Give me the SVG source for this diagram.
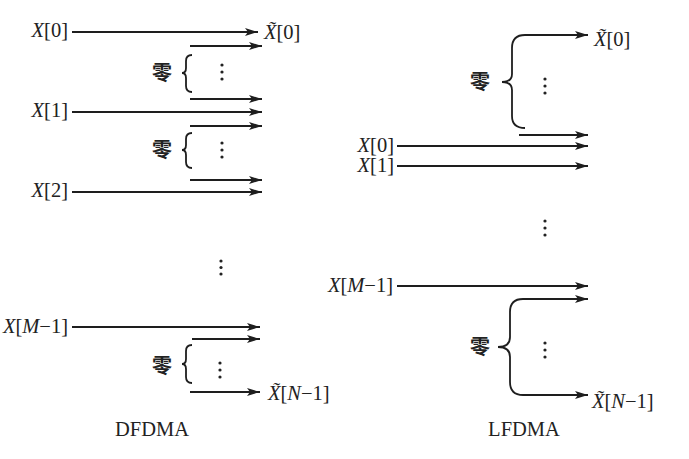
<svg xmlns="http://www.w3.org/2000/svg" width="689" height="459" viewBox="0 0 689 459">
<style>
.t{font-family:"Liberation Serif","Times New Roman",serif;font-size:20.5px;fill:#222}
.i{font-style:italic}
.z{font-family:"Liberation Serif","Noto Sans CJK SC",serif;font-size:20px;fill:#222;text-anchor:middle;font-weight:bold}
.c{font-family:"Liberation Serif","Times New Roman",serif;font-size:20.5px;fill:#222;text-anchor:middle}
.a{stroke:#1e1e1e;stroke-width:1.8;fill:none;marker-end:url(#ah)}
.b{stroke:#1e1e1e;stroke-width:1.8;fill:none}
.d{fill:#222}
</style>
<defs>
<marker id="ah" markerUnits="userSpaceOnUse" markerWidth="14" markerHeight="10" refX="13" refY="4" orient="auto">
<path d="M0,0 L13,4 L0,8 L3,4 z" fill="#1e1e1e"/>
</marker>
</defs>
<rect width="689" height="459" fill="#fff"/>

<!-- Left panel (DFDMA) -->
<g id="L_x0"><text class="t" x="68" y="37" text-anchor="end"><tspan class="i">X</tspan>[0]</text></g>
<g id="L_x1"><text class="t" x="68" y="117" text-anchor="end"><tspan class="i">X</tspan>[1]</text></g>
<g id="L_x2"><text class="t" x="68" y="197" text-anchor="end"><tspan class="i">X</tspan>[2]</text></g>
<g id="L_xM"><text class="t" x="68" y="333" text-anchor="end"><tspan class="i">X</tspan>[<tspan class="i">M</tspan>−1]</text></g>
<g id="L_y0"><text class="t" x="264" y="39"><tspan class="i">X̃</tspan>[0]</text></g>
<g id="L_yN"><text class="t" x="268" y="400"><tspan class="i">X̃</tspan>[<tspan class="i">N</tspan>−1]</text></g>
<g id="L_zero1">
<text class="z" x="162" y="80">零</text>
<path class="b" d="M192,55 Q186,55 186,61 L186,68 Q186,73 182,73 Q186,73 186,78 L186,86 Q186,92 192,92"/>
<circle class="d" cx="222" cy="65" r="1.6"/><circle class="d" cx="222" cy="72" r="1.6"/><circle class="d" cx="222" cy="79" r="1.6"/>
</g>
<g id="L_zero2">
<text class="z" x="162" y="157">零</text>
<path class="b" d="M192,133 Q186,133 186,139 L186,145 Q186,150 182,150 Q186,150 186,155 L186,162 Q186,168 192,168"/>
<circle class="d" cx="222" cy="143" r="1.6"/><circle class="d" cx="222" cy="150" r="1.6"/><circle class="d" cx="222" cy="157" r="1.6"/>
</g>
<g id="L_dots">
<circle class="d" cx="221" cy="261" r="1.6"/><circle class="d" cx="221" cy="267.5" r="1.6"/><circle class="d" cx="221" cy="274" r="1.6"/>
</g>
<g id="L_zero3">
<text class="z" x="162" y="373">零</text>
<path class="b" d="M192,345 Q186,345 186,351 L186,359 Q186,364 182,364 Q186,364 186,369 L186,377 Q186,383 192,383"/>
<circle class="d" cx="220" cy="363" r="1.6"/><circle class="d" cx="220" cy="370" r="1.6"/><circle class="d" cx="220" cy="377" r="1.6"/>
</g>
<g id="L_title"><text class="c" x="152" y="436">DFDMA</text></g>

<!-- Right panel (LFDMA) -->
<g id="R_x0"><text class="t" x="394" y="152" text-anchor="end"><tspan class="i">X</tspan>[0]</text></g>
<g id="R_x1"><text class="t" x="394" y="172" text-anchor="end"><tspan class="i">X</tspan>[1]</text></g>
<g id="R_xM"><text class="t" x="393" y="292" text-anchor="end"><tspan class="i">X</tspan>[<tspan class="i">M</tspan>−1]</text></g>
<g id="R_y0"><text class="t" x="594" y="46"><tspan class="i">X̃</tspan>[0]</text></g>
<g id="R_yN"><text class="t" x="592" y="408"><tspan class="i">X̃</tspan>[<tspan class="i">N</tspan>−1]</text></g>
<g id="R_zero1">
<text class="z" x="480" y="89">零</text>
<circle class="d" cx="545" cy="79" r="1.6"/><circle class="d" cx="545" cy="86" r="1.6"/><circle class="d" cx="545" cy="93" r="1.6"/>
</g>
<g id="R_dots">
<circle class="d" cx="545" cy="221" r="1.6"/><circle class="d" cx="545" cy="228" r="1.6"/><circle class="d" cx="545" cy="235" r="1.6"/>
</g>
<g id="R_zero2">
<text class="z" x="480" y="354">零</text>
<circle class="d" cx="545" cy="343" r="1.6"/><circle class="d" cx="545" cy="350" r="1.6"/><circle class="d" cx="545" cy="357" r="1.6"/>
</g>
<g id="R_title"><text class="c" x="524" y="436">LFDMA</text></g>

<g id="connectors">
<!-- left -->
<line class="a" x1="72" y1="32" x2="258" y2="32"/>
<line class="a" x1="190" y1="46" x2="262" y2="46"/>
<line class="a" x1="190" y1="99" x2="262" y2="99"/>
<line class="a" x1="72" y1="112" x2="262" y2="112"/>
<line class="a" x1="190" y1="126" x2="262" y2="126"/>
<line class="a" x1="190" y1="180" x2="262" y2="180"/>
<line class="a" x1="72" y1="192" x2="262" y2="192"/>
<line class="a" x1="72" y1="327" x2="260" y2="327"/>
<line class="a" x1="192" y1="339" x2="260" y2="339"/>
<line class="a" x1="190" y1="392" x2="260" y2="392"/>
<!-- right -->
<path class="a" d="M525,128 Q512,128 512,116 L512,90 Q512,82 502,82 Q512,82 512,74 L512,48 Q512,35 525,35 L588,35"/>
<line class="a" x1="519" y1="135" x2="588" y2="135"/>
<line class="a" x1="397" y1="146" x2="588" y2="146"/>
<line class="a" x1="397" y1="166" x2="588" y2="166"/>
<line class="a" x1="397" y1="286" x2="588" y2="286"/>
<path class="a" d="M498,347 Q510,347 510,337 L510,312 Q510,299 523,299 L588,299"/>
<path class="a" d="M498,347 Q510,347 510,357 L510,382 Q510,395 523,395 L588,395"/>
</g>
</svg>
